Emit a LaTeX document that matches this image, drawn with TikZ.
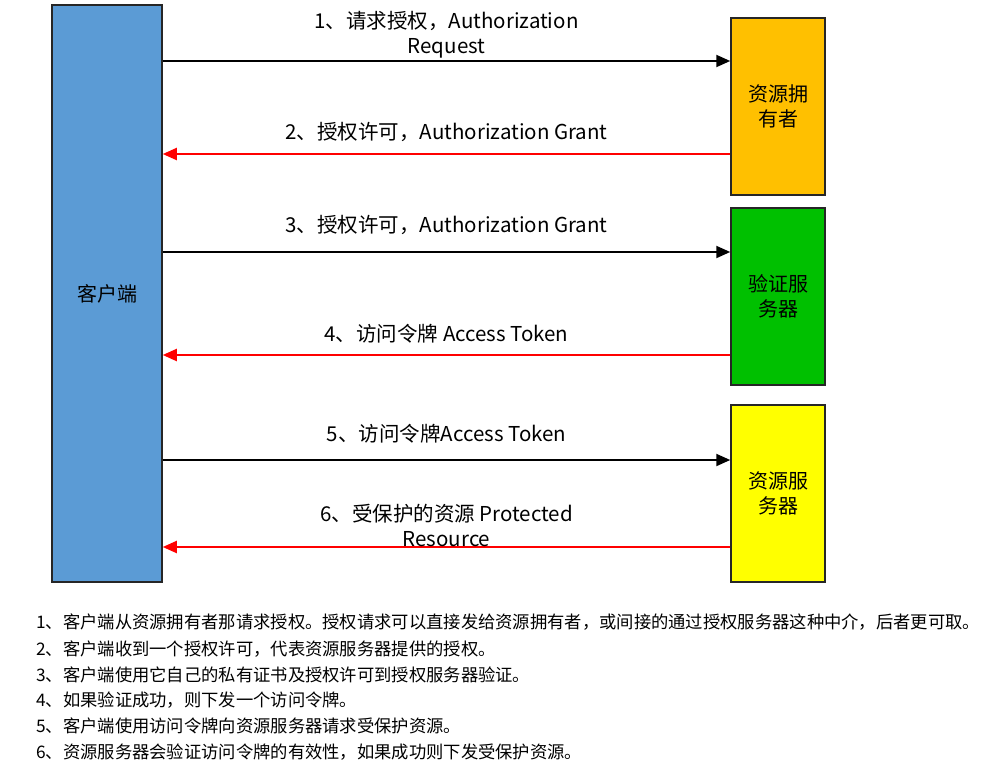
\documentclass[tikz,border=0pt]{standalone}
\usepackage{fontspec}
\setmainfont{Noto Sans CJK SC}
\usepackage{xcolor}
\usepackage{tikz}
\usetikzlibrary{arrows.meta,positioning}

\definecolor{clientblue}{HTML}{5B9BD5}
\definecolor{owneramber}{HTML}{FFC000}
\definecolor{authgreen}{HTML}{00C000}
\definecolor{resyellow}{HTML}{FFFF00}
\definecolor{msgred}{HTML}{FF0000}

\begin{document}
\begin{tikzpicture}[
  x=1pt,y=-1pt,
  party/.style={draw=black!85,line width=1.5pt,inner sep=0pt,align=center,
    font=\fontsize{20}{25}\selectfont},
  actor/.style={party,minimum width=94pt,minimum height=177pt},
  req/.style={-{Triangle[length=14pt,width=12pt]},line width=2pt,black},
  resp/.style={-{Triangle[length=14pt,width=12pt]},line width=2pt,msgred},
  msg/.style={text=black,font=\fontsize{20.5}{25}\selectfont,align=center,inner sep=0pt},
  note/.style={anchor=west,inner sep=0pt,font=\fontsize{17.3}{20}\selectfont}
]
  \useasboundingbox (0,0) rectangle (987,771);

  \node[party,fill=clientblue,minimum width=110pt,minimum height=577pt] (client) at (107,293.5) {客户端};
  \node[actor,fill=owneramber] (owner) at (778,106.5) {资源拥\\有者};
  \node[actor,fill=authgreen] (authsrv) at (778,296.5) {验证服\\务器};
  \node[actor,fill=resyellow] (ressrv) at (778,493.5) {资源服\\务器};

  % message levels on the right-hand boxes
  \coordinate (m1) at ([yshift=45.5pt]owner.west);
  \coordinate (m2) at ([yshift=-47.5pt]owner.west);
  \coordinate (m3) at ([yshift=44.5pt]authsrv.west);
  \coordinate (m4) at ([yshift=-58.5pt]authsrv.west);
  \coordinate (m5) at ([yshift=33.5pt]ressrv.west);
  \coordinate (m6) at ([yshift=-53.5pt]ressrv.west);

  \draw[req] (client.east |- m1) -- (m1)
    node[msg,midway,yshift=26pt] {1、请求授权，Authorization\\Request};
  \draw[resp] (m2) -- (client.east |- m2)
    node[msg,midway,yshift=22pt] {2、授权许可，Authorization Grant};
  \draw[req] (client.east |- m3) -- (m3)
    node[msg,midway,yshift=27pt] {3、授权许可，Authorization Grant};
  \draw[resp] (m4) -- (client.east |- m4)
    node[msg,midway,yshift=21pt] {4、访问令牌 Access Token};
  \draw[req] (client.east |- m5) -- (m5)
    node[msg,midway,yshift=26pt] {5、访问令牌Access Token};
  \draw[resp] (m6) -- (client.east |- m6)
    node[msg,midway,yshift=21.5pt] {6、受保护的资源 Protected\\Resource};

  % notes
  \node[note] (note1) at (36,622) {1、客户端从资源拥有者那请求授权。授权请求可以直接发给资源拥有者，或间接的通过授权服务器这种中介，后者更可取。};
  \node[note] (note2) at (36,649) {2、客户端收到一个授权许可，代表资源服务器提供的授权。};
  \node[note] (note3) at (36,675) {3、客户端使用它自己的私有证书及授权许可到授权服务器验证。};
  \node[note] (note4) at (36,700) {4、如果验证成功，则下发一个访问令牌。};
  \node[note] (note5) at (36,726) {5、客户端使用访问令牌向资源服务器请求受保护资源。};
  \node[note] (note6) at (36,752) {6、资源服务器会验证访问令牌的有效性，如果成功则下发受保护资源。};
\end{tikzpicture}
\end{document}
